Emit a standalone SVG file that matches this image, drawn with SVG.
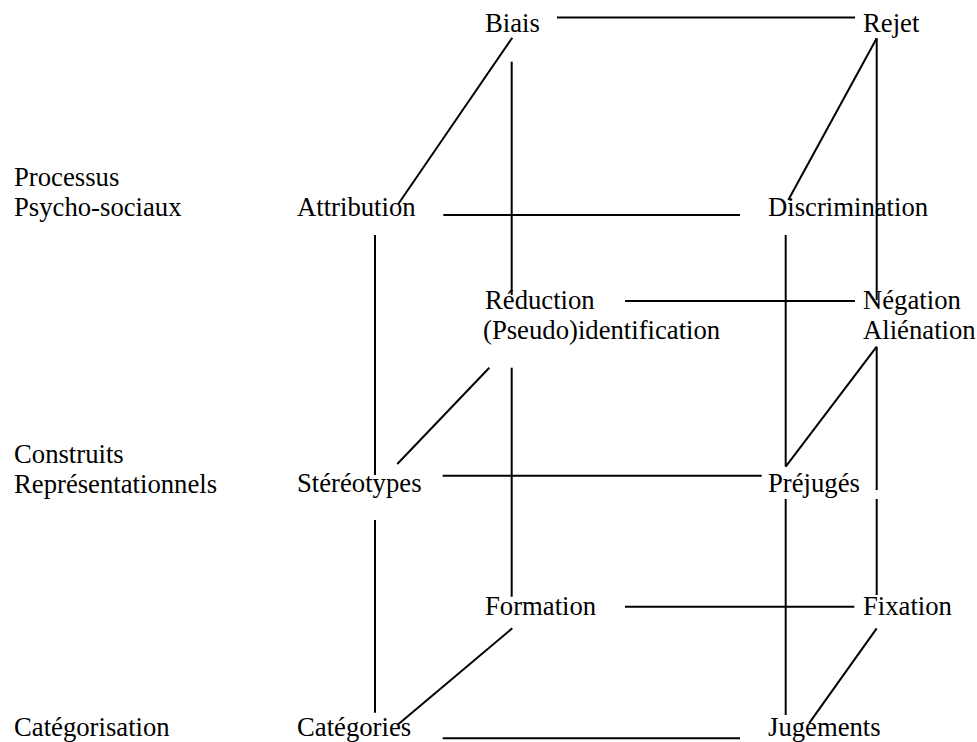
<svg xmlns="http://www.w3.org/2000/svg" width="977" height="742" viewBox="0 0 977 742">
<style>
text { font-family: "Liberation Serif", "Times New Roman", serif; font-size: 26.7px; fill: #000; }
.c line { stroke: #000; stroke-width: 2; fill: none; }
</style>
<rect width="977" height="742" fill="#fff"/>
<g id="levels">
  <g id="lvl-processus"><text x="14" y="186">Processus</text><text x="14" y="216">Psycho-sociaux</text></g>
  <g id="lvl-construits"><text x="14" y="463">Construits</text><text x="14" y="493">Représentationnels</text></g>
  <g id="lvl-categorisation"><text x="14" y="736">Catégorisation</text></g>
</g>
<g id="nodes">
  <g id="n-biais"><text x="485" y="32">Biais</text></g>
  <g id="n-rejet"><text x="863" y="32">Rejet</text></g>
  <g id="n-attribution"><text x="297" y="216">Attribution</text></g>
  <g id="n-discrimination"><text x="768" y="216">Discrimination</text></g>
  <g id="n-reduction"><text x="485" y="309">Réduction</text><text x="483" y="339">(Pseudo)identification</text></g>
  <g id="n-negation"><text x="863" y="309">Négation</text><text x="863" y="339">Aliénation</text></g>
  <g id="n-stereotypes"><text x="297" y="492">Stéréotypes</text></g>
  <g id="n-prejuges"><text x="768" y="492">Préjugés</text></g>
  <g id="n-formation"><text x="485" y="615">Formation</text></g>
  <g id="n-fixation"><text x="863" y="615">Fixation</text></g>
  <g id="n-categories"><text x="297" y="736">Catégories</text></g>
  <g id="n-jugements"><text x="768" y="736">Jugements</text></g>
</g>
<g id="connectors" class="c">
  <line x1="557" y1="17.5" x2="855" y2="17.5"/>
  <line x1="512.3" y1="37.7" x2="398.3" y2="204"/>
  <line x1="511.7" y1="61.7" x2="511.7" y2="295"/>
  <line x1="443.3" y1="215" x2="740" y2="215"/>
  <line x1="876.7" y1="38.3" x2="788.3" y2="200"/>
  <line x1="876.7" y1="38.3" x2="876.7" y2="300"/>
  <line x1="375" y1="235" x2="375" y2="475"/>
  <line x1="625" y1="301" x2="855" y2="301"/>
  <line x1="489.3" y1="367.7" x2="397.3" y2="464"/>
  <line x1="511.7" y1="367.7" x2="511.7" y2="596.7"/>
  <line x1="442.7" y1="475.7" x2="761.7" y2="475.7"/>
  <line x1="785.7" y1="235" x2="785.7" y2="466.7"/>
  <line x1="876.7" y1="346.7" x2="785.7" y2="466.7"/>
  <line x1="876.7" y1="346.7" x2="876.7" y2="490"/>
  <line x1="876.7" y1="499" x2="876.7" y2="595"/>
  <line x1="785.7" y1="499" x2="785.7" y2="715"/>
  <line x1="625" y1="606.7" x2="854.3" y2="606.7"/>
  <line x1="876.7" y1="628.3" x2="809" y2="723.3"/>
  <line x1="442.7" y1="738.3" x2="740" y2="738.3"/>
  <line x1="375" y1="520" x2="375" y2="712.7"/>
  <line x1="512.3" y1="628.3" x2="398.3" y2="724.3"/>
</g>
</svg>
